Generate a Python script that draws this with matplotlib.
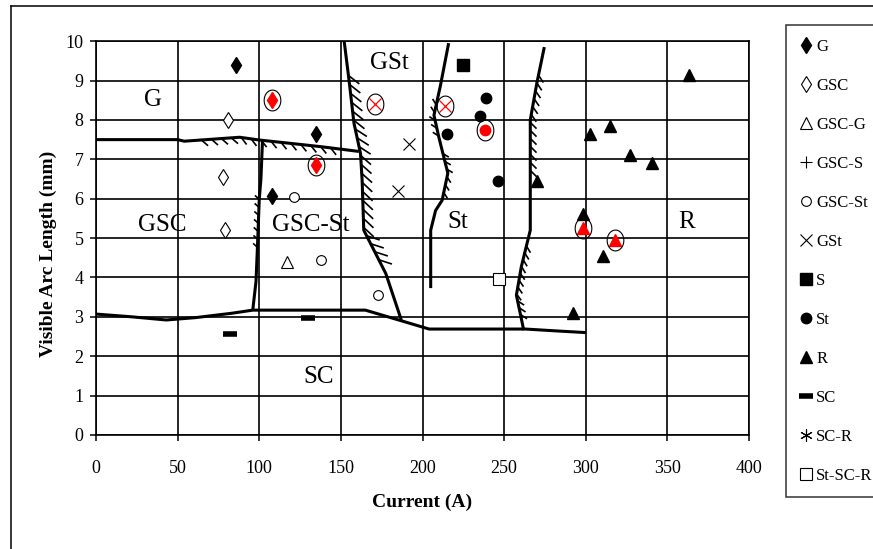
import numpy as np
import matplotlib.pyplot as plt
from matplotlib.path import Path

plt.rcParams['font.family'] = ['Liberation Serif', 'DejaVu Serif']

# measured points, current (A) vs visible arc length (mm)
g_x = [86, 135, 108]
g_y = [9.4, 7.65, 6.08]
gsc_x = [81, 78, 79]
gsc_y = [8.0, 6.55, 5.2]
gscg_x = [117]
gscg_y = [4.4]
gscs_x = []
gscs_y = []
gscst_x = [121, 138, 173]
gscst_y = [6.05, 4.45, 3.55]
gst_x = [191.5, 185]
gst_y = [7.4, 6.2]
s_x = [225]
s_y = [9.4]
st_x = [239, 235.5, 215, 246]
st_y = [8.55, 8.1, 7.65, 6.45]
r_x = [363, 315, 302.5, 327, 340.5, 270, 298, 310.5, 292]
r_y = [9.15, 7.85, 7.65, 7.1, 6.9, 6.45, 5.6, 4.55, 3.1]
sc_x = [82, 130]
sc_y = [2.56, 2.97]
scr_x = []
scr_y = []
stscr_x = [247]
stscr_y = [3.97]

# circled (red) points
red_g_x = [108, 135]
red_g_y = [8.5, 6.85]
red_gst_x = [171, 214]
red_gst_y = [8.4, 8.35]
red_st_x = [238]
red_st_y = [7.75]
red_r_x = [298.5, 318]
red_r_y = [5.25, 4.95]

# transfer mode boundaries
b_ggsc_x = [0, 50, 54, 88, 100, 118, 138, 161]
b_ggsc_y = [7.5, 7.5, 7.46, 7.56, 7.49, 7.41, 7.32, 7.2]
b_gscst_x = [102, 101, 100, 99, 98, 96]
b_gscst_y = [7.5, 6.5, 6.0, 4.9, 3.9, 3.17]
b_sc_x = [0, 22, 43, 61, 83, 96, 165, 187, 204, 263, 283, 300]
b_sc_y = [3.07, 3.0, 2.92, 2.98, 3.09, 3.17, 3.17, 2.9, 2.69, 2.69, 2.64, 2.6]
b_gst_x = [152, 155, 158, 162, 163, 164, 177.5, 187]
b_gst_y = [10, 9.0, 7.92, 7.15, 6.47, 5.2, 4.1, 2.92]
b_st_x = [216, 211, 207, 210, 215.5, 212, 208, 205, 205]
b_st_y = [9.95, 8.88, 8.12, 7.56, 6.65, 5.96, 5.7, 5.2, 3.73]
b_r_x = [274.6, 270, 266, 266, 260.5, 257.5, 262]
b_r_y = [9.85, 8.93, 8.0, 5.2, 4.27, 3.55, 2.66]

region_names = ['G', 'GSt', 'GSC', 'GSC-St', 'St', 'R', 'SC']
region_x = [34.6, 179.5, 40.6, 131.7, 221.4, 362, 136.5]
region_y = [8.5, 9.44, 5.33, 5.33, 5.41, 5.41, 1.47]

fig = plt.figure(figsize=(8.73, 5.49), dpi=100)
fig.subplots_adjust(left=0.110, right=0.858, bottom=0.2077, top=0.925)
ax = fig.add_subplot(111)

ax.set_xlim(0, 400)
ax.set_ylim(0, 10)
ax.set_xticks(np.arange(0, 401, 50))
ax.set_yticks(np.arange(0, 11, 1))
ax.grid(True, color='black', lw=1.2)
ax.set_axisbelow(True)
for sp in ax.spines.values():
    sp.set_linewidth(1.2)
ax.tick_params(axis='both', direction='out', length=4, width=1.1,
               labelsize=13, colors='black')
ax.tick_params(axis='x', pad=14)
ax.tick_params(axis='y', pad=5)

bk = dict(color='black', ls='none')
ax.plot(g_x, g_y, marker='d', ms=8, label='G', **bk)
ax.plot(gsc_x, gsc_y, marker='d', ms=8, mfc='white', mew=0.8, label='GSC', **bk)
ax.plot(gscg_x, gscg_y, marker='^', ms=8, mfc='white', mew=0.8, label='GSC-G', **bk)
ax.plot(gscs_x, gscs_y, marker='+', ms=9, mew=0.8, label='GSC-S', **bk)
ax.plot(gscst_x, gscst_y, marker='o', ms=7, mfc='white', mew=0.8, label='GSC-St', **bk)
ax.plot(gst_x, gst_y, marker='x', ms=8, mew=0.8, label='GSt', **bk)
ax.plot(s_x, s_y, marker='s', ms=8, label='S', **bk)
ax.plot(st_x, st_y, marker='o', ms=7.5, label='St', **bk)
ax.plot(r_x, r_y, marker='^', ms=8, label='R', **bk)
ax.plot(sc_x, sc_y, marker='_', ms=10, mew=4, label='SC', **bk)
ax.plot(scr_x, scr_y, marker=(6, 2, 0), ms=9, mew=0.8, label='SC-R', **bk)
ax.plot(stscr_x, stscr_y, marker='s', ms=9, mfc='white', mew=0.8, label='St-SC-R', **bk)

# highlighted points: red marker inside an open ellipse
th = np.linspace(0, 2 * np.pi, 60)
ellipse = Path(np.column_stack([0.8 * np.cos(th), np.sin(th)]), closed=True)
rd = dict(color='red', ls='none', zorder=5)
ax.plot(red_g_x, red_g_y, marker='d', ms=8, **rd)
ax.plot(red_gst_x, red_gst_y, marker='x', ms=8, mew=0.9, **rd)
ax.plot(red_st_x, red_st_y, marker='o', ms=7.5, **rd)
ax.plot(red_r_x, red_r_y, marker='^', ms=8, **rd)
for xs, ys in [(red_g_x, red_g_y), (red_gst_x, red_gst_y),
               (red_st_x, red_st_y), (red_r_x, red_r_y)]:
    ax.plot(xs, ys, ls='none', marker=ellipse, ms=15, mfc='none',
            mec='black', mew=0.8, zorder=6)

# boundary lines
lines = [(b_ggsc_x, b_ggsc_y), (b_gscst_x, b_gscst_y), (b_sc_x, b_sc_y),
         (b_gst_x, b_gst_y), (b_st_x, b_st_y), (b_r_x, b_r_y)]
for xs, ys in lines:
    ax.plot(xs, ys, color='black', lw=2.2, solid_capstyle='butt', zorder=4)


def hatch(xs, ys, f0, f1, side, length, step, angle=45):
    """short slanted ticks along part of a polyline (sizes in pixels)"""
    pts = ax.transData.transform(np.column_stack([xs, ys]))
    seg = np.diff(pts, axis=0)
    seglen = np.hypot(seg[:, 0], seg[:, 1])
    cum = np.concatenate([[0], np.cumsum(seglen)])
    inv = ax.transData.inverted()
    a = np.radians(angle)
    for s in np.arange(f0 * cum[-1], f1 * cum[-1], step):
        i = min(np.searchsorted(cum, s, side='right') - 1, len(seg) - 1)
        t = seg[i] / seglen[i]
        p = pts[i] + t * (s - cum[i])
        n = side * np.array([-t[1], t[0]])
        d = np.cos(a) * n + np.sin(a) * t
        q = inv.transform(np.array([p, p + d * length]))
        ax.plot(q[:, 0], q[:, 1], color='black', lw=1.2, zorder=4)


hatch(b_ggsc_x, b_ggsc_y, 0.40, 0.93, -1, 8, 10)
hatch(b_gscst_x, b_gscst_y, 0.35, 0.65, -1, 5, 8, angle=-40)
hatch(b_gst_x, b_gst_y, 0.12, 0.78, 1, 13, 9)
hatch(b_st_x, b_st_y, 0.45, 0.62, 1, 6, 8)
hatch(b_st_x, b_st_y, 0.25, 0.38, -1, 6, 8, angle=-45)
hatch(b_r_x, b_r_y, 0.10, 0.45, 1, 8, 8)
hatch(b_r_x, b_r_y, 0.70, 0.95, 1, 7, 7)

for name, x, y in zip(region_names, region_x, region_y):
    ax.text(x, y, name, fontsize=18, ha='center', va='center', zorder=7)

ax.set_xlabel('Current (A)', fontsize=14, fontweight='bold', labelpad=12)
fig.text(48 / 873, 1 - 254 / 549, 'Visible Arc Length (mm)', rotation=90,
         fontsize=14, fontweight='bold', ha='center', va='center')

leg = fig.legend(loc='upper left', bbox_to_anchor=(786 / 873, 1 - 25 / 549),
                 frameon=True, fancybox=False, edgecolor='black',
                 fontsize=12, handlelength=0.8, handletextpad=0.2,
                 labelspacing=1.38, borderpad=0.82, borderaxespad=0)
leg.get_frame().set_linewidth(1.1)

# outer border
fig.add_artist(plt.Line2D([11 / 873, 11 / 873], [0, 1 - 6 / 549],
                          color='black', lw=1.1, transform=fig.transFigure))
fig.add_artist(plt.Line2D([11 / 873, 1], [1 - 6 / 549, 1 - 6 / 549],
                          color='black', lw=1.1, transform=fig.transFigure))

fig.savefig('out.png', dpi=100)
